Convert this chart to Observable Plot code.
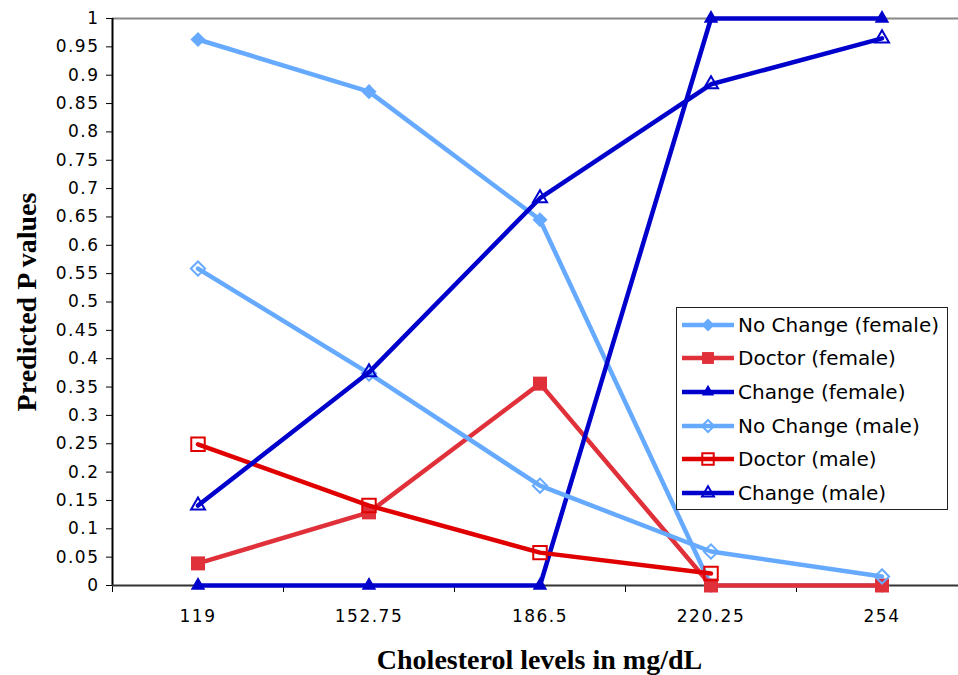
<!DOCTYPE html>
<html>
<head>
<meta charset="utf-8">
<script src="https://cdn.jsdelivr.net/npm/d3@7"></script>
<script src="https://cdn.jsdelivr.net/npm/@observablehq/plot@0.6"></script>
<style>
  html, body { margin: 0; padding: 0; background: #fff; overflow: hidden; }
  #wrap { position: relative; width: 958px; height: 675px; }
  #wrap svg { overflow: hidden; }
  .chart [aria-label="y-axis tick label"] text { font-size: 17px; letter-spacing: 1.5px; }
  .chart [aria-label="x-axis tick label"] text { font-size: 17px; letter-spacing: 1.5px; }
  #legend { position: absolute; left: 676px; top: 307px; width: 272px; height: 203px;
    border: 1px solid #222; background: #fff; box-sizing: border-box; padding-top: 0px;
    font-family: "DejaVu Sans", Verdana, sans-serif; font-size: 20px; color: #000; }
  #legend .row { display: flex; align-items: center; height: 33.6px; }
  #legend svg { flex: none; margin-left: 4px; margin-right: 3px; }
</style>
</head>
<body>
<div id="wrap"></div>
<script>
const categories = ["119", "152.75", "186.5", "220.25", "254"];
const noChangeFemale = [0.963, 0.871, 0.645, 0, 0];
const doctorFemale = [0.039, 0.129, 0.356, 0, 0];
const changeFemale = [0, 0, 0, 1, 1];
const noChangeMale = [0.559, 0.374, 0.176, 0.060, 0.016];
const doctorMale = [0.249, 0.141, 0.058, 0.021, null];
const changeMale = [0.141, 0.376, 0.683, 0.884, 0.965];
const yTicks = [0, 0.05, 0.1, 0.15, 0.2, 0.25, 0.3, 0.35, 0.4, 0.45, 0.5,
                0.55, 0.6, 0.65, 0.7, 0.75, 0.8, 0.85, 0.9, 0.95, 1];
const seriesNames = ["No Change (female)", "Doctor (female)", "Change (female)",
                     "No Change (male)", "Doctor (male)", "Change (male)"];
const seriesColors = ["#66AAFF", "#E0303A", "#0000CC", "#66AAFF", "#E00000", "#0000CC"];
const seriesSymbols = ["diamond2", "square", "triangle", "diamond2", "square", "triangle"];
const seriesFilled = [true, true, true, false, false, false];
const seriesR = [6.8, 7.9, 5.4, 6.4, 7.6, 5.2];
const seriesValues = [noChangeFemale, doctorFemale, changeFemale, noChangeMale, doctorMale, changeMale];

const xTitle = "Cholesterol levels in mg/dL";
const yTitle = "Predicted P values";

const boundaries = d3.range(categories.length + 1).map(i => i - 0.5);

const marks = [];
seriesValues.forEach((vals, k) => {
  const data = vals.map((v, i) => ({i, v}));
  marks.push(Plot.line(data, {x: "i", y: "v", stroke: seriesColors[k], strokeWidth: 4.5}));
  marks.push(Plot.dot(data.filter(d => d.v != null), {
    x: "i", y: "v", symbol: () => seriesSymbols[k], r: seriesR[k],
    fill: seriesFilled[k] ? seriesColors[k] : "none",
    stroke: seriesColors[k], strokeWidth: seriesFilled[k] ? 0 : 2
  }));
});

const titleFont = "'Liberation Serif', 'Times New Roman', serif";

const chart = Plot.plot({
  className: "chart",
  width: 958,
  height: 675,
  marginLeft: 112,
  marginRight: 0,
  marginTop: 18,
  marginBottom: 90,
  style: {fontFamily: "'DejaVu Sans', Verdana, sans-serif", fontSize: "17px", color: "#000", background: "#fff"},
  x: {type: "linear", domain: [-0.5, categories.length - 0.5], range: [112, 967]},
  y: {domain: [0, 1]},
  symbol: {type: "identity"},
  marks: [
    Plot.ruleY([1], {stroke: "#888", strokeWidth: 2}),
    Plot.axisY({ticks: yTicks, tickFormat: d => String(+d.toFixed(2)), tickSize: 6, tickPadding: 7, label: null, stroke: "#000"}),
    Plot.axisX({ticks: boundaries, tickFormat: () => "", tickSize: 7, label: null}),
    Plot.axisX({ticks: d3.range(categories.length), tickFormat: i => categories[i], tickSize: 0, tickPadding: 24, label: null}),
    Plot.ruleX([-0.5], {stroke: "#000", strokeWidth: 2}),
    Plot.ruleY([0], {stroke: "#333", strokeWidth: 2}),
    ...marks,
    Plot.text([xTitle], {frameAnchor: "bottom", dy: 83, dx: 4, text: d => d, fontFamily: titleFont, fontWeight: "bold", fontSize: 28}),
    Plot.text([yTitle], {frameAnchor: "left", textAnchor: "middle", dx: -85, rotate: -90, text: d => d, fontFamily: titleFont, fontWeight: "bold", fontSize: 28})
  ]
});
document.getElementById("wrap").appendChild(chart);

// Legend
const legend = document.createElement("div");
legend.id = "legend";
const pathFor = (sym, r) => {
  const map = {diamond2: d3.symbolDiamond2, square: d3.symbolSquare, triangle: d3.symbolTriangle};
  return d3.symbol(map[sym], r * r * Math.PI)();
};
seriesNames.forEach((name, k) => {
  const row = document.createElement("div");
  row.className = "row";
  const c = seriesColors[k];
  const fill = seriesFilled[k] ? c : "none";
  const sw = seriesFilled[k] ? 0 : 2;
  row.innerHTML = `<svg width="54" height="20" viewBox="0 0 54 20">
    <line x1="1" x2="53" y1="10" y2="10" stroke="${c}" stroke-width="4.5"/>
    <path transform="translate(27,10)" d="${pathFor(seriesSymbols[k], seriesR[k] * 0.85)}" fill="${fill}" stroke="${c}" stroke-width="${sw}"/>
  </svg><span>${name}</span>`;
  legend.appendChild(row);
});
document.getElementById("wrap").appendChild(legend);
</script>
</body>
</html>
